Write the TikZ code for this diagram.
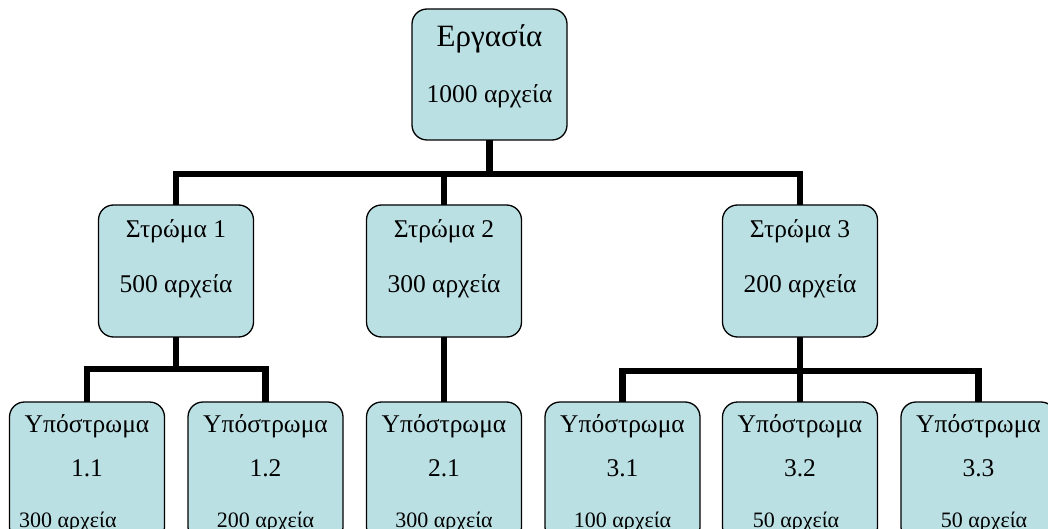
\documentclass[tikz,border=0pt]{standalone}
\usepackage{fontspec}
\setmainfont{Liberation Serif}
\definecolor{boxfill}{RGB}{187,224,227}
\begin{document}
\begin{tikzpicture}[x=1pt,y=-1pt,
  box/.style={draw=black, line width=1.3pt, fill=boxfill, rounded corners=15pt,
    minimum width=155pt, inner sep=0pt, outer sep=0pt},
  topbox/.style={box, minimum height=131pt},
  midbox/.style={box, minimum height=132pt},
  lowbox/.style={box, minimum height=140pt},
  link/.style={line width=6.5pt, line cap=butt, line join=miter},
  titletext/.style={anchor=base, inner sep=0pt, font=\fontsize{31}{34}\selectfont},
  midtext/.style={anchor=base, inner sep=0pt, font=\fontsize{25.5}{28}\selectfont},
  lowtext/.style={anchor=base, inner sep=0pt, font=\fontsize{25.5}{28}\selectfont},
  amounttext/.style={anchor=base, inner sep=0pt, font=\fontsize{22}{25}\selectfont}]
\useasboundingbox (0,0) rectangle (1048,529);
\clip (0,0) rectangle (1048,529);

% bus levels
\coordinate (busTop) at (0,174);
\coordinate (busOne) at (0,369);
\coordinate (busThree) at (0,371);

% boxes
\node[topbox] (job) at (489.5,74.5) {};
\node[midbox] (s1) at (176,271) {};
\node[midbox] (s2) at (444,271) {};
\node[midbox] (s3) at (800,271) {};
\node[lowbox] (s11) at (87,472) {};
\node[lowbox] (s12) at (265.5,472) {};
\node[lowbox] (s21) at (444,472) {};
\node[lowbox] (s31) at (622.5,472) {};
\node[lowbox] (s32) at (800,472) {};
\node[lowbox] (s33) at (978.5,472) {};

% connectors
\draw[link] (job.south) -- (job.south |- busTop);
\draw[link] (s1.north) -- (s1.north |- busTop) -- (s3.north |- busTop) -- (s3.north);
\draw[link] (s2.north) -- (s2.north |- busTop);
\draw[link] (s1.south) -- (s1.south |- busOne);
\draw[link] (s11.north) -- (s11.north |- busOne) -- (s12.north |- busOne) -- (s12.north);
\draw[link] (s2.south) -- (s21.north);
\draw[link] (s3.south) -- (s32.north);
\draw[link] (s31.north) -- (s31.north |- busThree) -- (s33.north |- busThree) -- (s33.north);

% labels
\node[titletext] (jobname) at (489.5,47) {Εργασία};
\node[midtext] (jobsize) at (489.5,103) {1000 αρχεία};

\node[midtext] (s1name) at (176,237) {Στρώμα 1};
\node[midtext] (s1size) at (176,292) {500 αρχεία};
\node[midtext] (s2name) at (444,237) {Στρώμα 2};
\node[midtext] (s2size) at (444,292) {300 αρχεία};
\node[midtext] (s3name) at (800,237) {Στρώμα 3};
\node[midtext] (s3size) at (800,292) {200 αρχεία};

\foreach \n/\x/\num in {s11/87/1.1, s12/265.5/1.2, s21/444/2.1, s31/622.5/3.1, s32/800/3.2, s33/978.5/3.3}{
  \node[lowtext] (\n name) at (\x,432) {Υπόστρωμα};
  \node[lowtext] (\n num) at (\x,476) {\num};
}
\node[amounttext, anchor=base west] (s11size) at (19,527) {300 αρχεία};
\node[amounttext] (s12size) at (265.5,527) {200 αρχεία};
\node[amounttext] (s21size) at (444,527) {300 αρχεία};
\node[amounttext] (s31size) at (622.5,527) {100 αρχεία};
\node[amounttext] (s32size) at (796,527) {50 αρχεία};
\node[amounttext] (s33size) at (984,527) {50 αρχεία};
\end{tikzpicture}
\end{document}
